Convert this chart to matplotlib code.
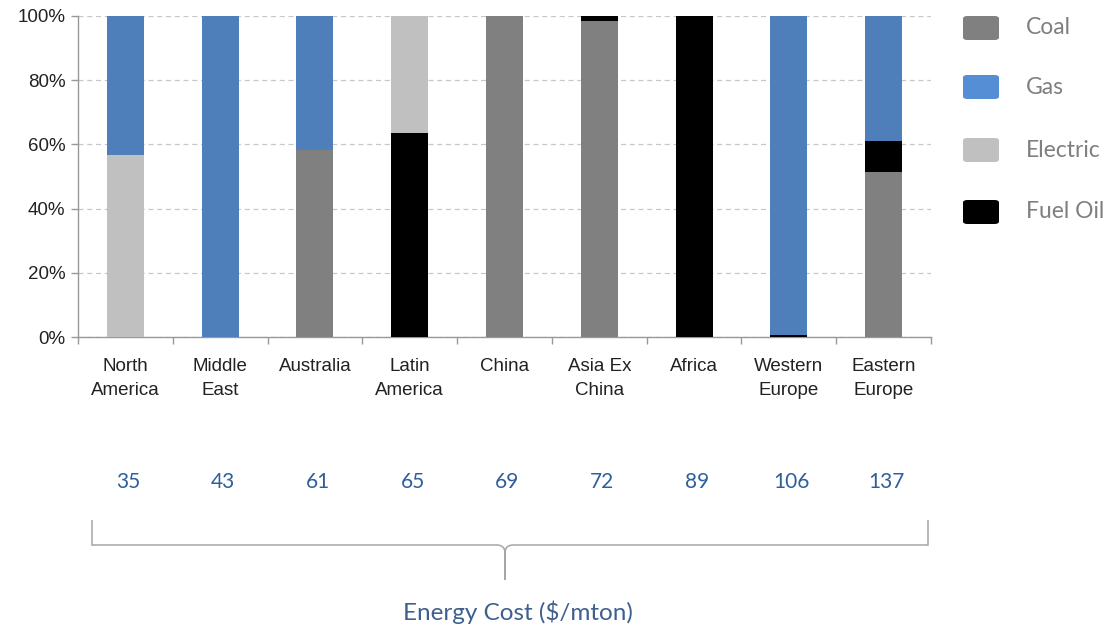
import matplotlib
matplotlib.use("Agg")
import matplotlib.pyplot as plt
from matplotlib.patches import FancyBboxPatch, PathPatch
from matplotlib.path import Path
from matplotlib.font_manager import fontManager
import numpy as np

regions = ["North\nAmerica", "Middle\nEast", "Australia", "Latin\nAmerica", "China",
           "Asia Ex\nChina", "Africa", "Western\nEurope", "Eastern\nEurope"]
energy_cost = [35, 43, 61, 65, 69, 72, 89, 106, 137]

coal     = [0.0, 0.0, 58.3, 0.0, 100.0, 98.5, 0.0, 0.0, 51.5]
fuel_oil = [0.0, 0.0, 0.0, 63.5, 0.0, 1.5, 100.0, 0.7, 9.7]
electric = [56.7, 0.0, 0.0, 36.5, 0.0, 0.0, 0.0, 0.0, 0.0]
gas      = [43.3, 100.0, 41.7, 0.0, 0.0, 0.0, 0.0, 99.3, 38.8]

yticks = [0, 20, 40, 60, 80, 100]
ytick_labels = ["0%", "20%", "40%", "60%", "80%", "100%"]
legend_names = ["Coal", "Gas", "Electric", "Fuel Oil"]
axis_title = "Energy Cost ($/mton)"

names = {f.name for f in fontManager.ttflist}
narrow = "Liberation Sans Narrow" if "Liberation Sans Narrow" in names else "Liberation Sans"
soft = "Lato"

bar_colors = {"Coal": "#808080", "Gas": "#4F7FBA", "Electric": "#C0C0C0", "Fuel Oil": "#000000"}
legend_colors = {"Coal": "#808080", "Gas": "#558ED5", "Electric": "#C0C0C0", "Fuel Oil": "#000000"}

W, H = 1109, 629
fig = plt.figure(figsize=(W / 100, H / 100), dpi=100)
ax = fig.add_axes([78 / W, 1 - 337 / H, (931 - 78) / W, (337 - 16) / H])

x = np.arange(len(regions))
bw = 0.39
bottom = np.zeros(len(regions))
for name, vals in [("Coal", coal), ("Fuel Oil", fuel_oil), ("Electric", electric), ("Gas", gas)]:
    v = np.array(vals)
    ax.bar(x, v, bw, bottom=bottom, color=bar_colors[name], edgecolor="none", zorder=3)
    bottom += v

ax.set_xlim(-0.5, len(regions) - 0.5)
ax.set_ylim(0, 100)
ax.set_yticks(yticks)
ax.set_yticklabels(ytick_labels, fontsize=13.5, family=narrow, color="#222222")
ax.yaxis.grid(True, color="#C8C8C8", linestyle=(0, (4, 3)), linewidth=0.9, zorder=0)
ax.set_xticks(x)
ax.set_xticklabels(regions, fontsize=13.5, family=narrow, color="#222222", linespacing=1.55)
ax.tick_params(axis="x", which="major", length=0, pad=15)
ax.set_xticks(np.arange(-0.5, len(regions) + 0.5, 1), minor=True)
ax.tick_params(axis="x", which="minor", length=5, color="#999999", width=1)
ax.tick_params(axis="y", length=5, color="#999999", width=1, pad=4)
for s in ["top", "right"]:
    ax.spines[s].set_visible(False)
for s in ["left", "bottom"]:
    ax.spines[s].set_color("#999999")
    ax.spines[s].set_linewidth(1)

# energy cost values
for xi, c in zip(x, energy_cost):
    ax.annotate(str(c), xy=(xi, 0), xycoords=("data", "axes fraction"),
                xytext=(3, -(482 - 337)), textcoords="offset pixels",
                ha="center", va="center", fontsize=15, family=soft, color="#2F5F9A")

# legend (manual)
rows_y = [28, 87, 150, 212]
for name, yy in zip(legend_names, rows_y):
    p = FancyBboxPatch(((963) / W, 1 - (yy + 12) / H), 36 / W, 24 / H,
                       boxstyle="round,pad=0,rounding_size=0.004",
                       transform=fig.transFigure, facecolor=legend_colors[name],
                       edgecolor="none")
    fig.patches.append(p)
    fig.text(1026 / W, 1 - yy / H, name, ha="left", va="center", fontsize=16.5,
             family=soft, color="#7F7F7F")

# brace
def fp(px, py):
    return (px / W, 1 - py / H)

verts = [fp(92, 520), fp(92, 545), fp(92, 545), fp(100, 545),
         fp(497, 545), fp(505, 545), fp(505, 553), fp(505, 580),
         fp(505, 553), fp(505, 545), fp(513, 545),
         fp(920, 545), fp(928, 545), fp(928, 545), fp(928, 520)]
codes = [Path.MOVETO, Path.CURVE3, Path.CURVE3, Path.LINETO,
         Path.LINETO, Path.CURVE3, Path.CURVE3, Path.LINETO,
         Path.LINETO, Path.CURVE3, Path.CURVE3,
         Path.LINETO, Path.CURVE3, Path.CURVE3, Path.LINETO]
brace = PathPatch(Path(verts, codes), transform=fig.transFigure, fill=False,
                  edgecolor="#A6A6A6", linewidth=1.1)
fig.patches.append(brace)

fig.text(518 / W, 1 - 612 / H, axis_title, ha="center", va="center", fontsize=17.5,
         family=soft, color="#3F5F8F")

fig.savefig("out.png", dpi=100)
